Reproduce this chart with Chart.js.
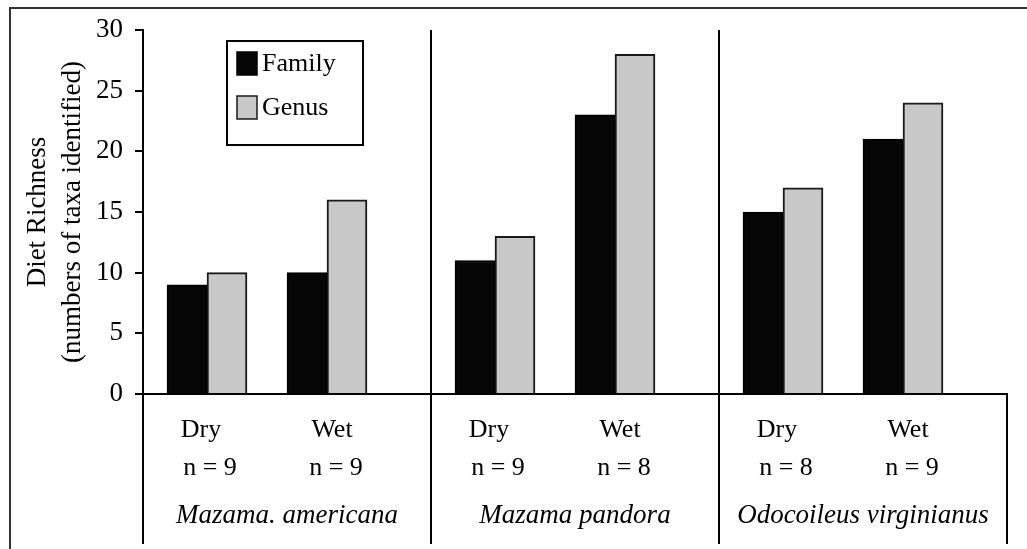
<!DOCTYPE html>
<html>
<head>
<meta charset="utf-8">
<title>Diet richness</title>
<script src="https://cdn.jsdelivr.net/npm/chart.js@4.4.0/dist/chart.umd.min.js"></script>
<style>
  html, body { margin: 0; padding: 0; background: #fff; }
  #wrap { position: relative; width: 1027px; height: 549px; }
</style>
</head>
<body>
<div id="wrap"><canvas id="richChart"></canvas></div>
<script>
// x groups and the two seasons inside each group
var species = ['Mazama. americana', 'Mazama pandora', 'Odocoileus virginianus'];
var seasons = ['Dry', 'Wet'];
// numbers of taxa identified, one value per species
var familyDry = [9, 11, 15];
var genusDry  = [10, 13, 17];
var familyWet = [10, 23, 21];
var genusWet  = [16, 28, 24];
// sample sizes
var nDry = [9, 9, 8];
var nWet = [9, 8, 9];
var yTicks = [0, 5, 10, 15, 20, 25, 30];

var serif = "'Liberation Serif', 'Times New Roman', serif";
var black = '#060606', grey = '#c8c8c8';

function bars(label, season, values, colour, edge) {
    return { label: label, season: season, data: values, backgroundColor: colour,
             borderColor: edge, borderWidth: 2, barThickness: 40 };
}
// empty set = space after each Dry / Wet pair
function gap() {
    return { label: '', data: species.map(function () { return null; }), barThickness: 40 };
}

var data = {
    labels: species,
    datasets: [
        bars('Family', 'Dry', familyDry, black, '#000'),
        bars('Genus', 'Dry', genusDry, grey, '#1a1a1a'),
        gap(),
        bars('Family', 'Wet', familyWet, black, '#000'),
        bars('Genus', 'Wet', genusWet, grey, '#1a1a1a'),
        gap()
    ]
};

var extras = {
    id: 'extras',
    beforeDraw: function (chart) {
        var ctx = chart.ctx;
        ctx.save();
        ctx.strokeStyle = '#333';
        ctx.lineWidth = 2;
        ctx.beginPath();
        ctx.moveTo(10, chart.height);
        ctx.lineTo(10, 8);
        ctx.lineTo(chart.width, 8);
        ctx.stroke();
        ctx.restore();
    },
    afterDraw: function (chart) {
        var ctx = chart.ctx, area = chart.chartArea;
        ctx.save();
        ctx.fillStyle = '#000';
        ctx.textAlign = 'center';
        ctx.textBaseline = 'middle';
        ctx.font = '26px ' + serif;
        // [family set, genus set, sample sizes, label shift, n shift]
        [[0, 1, nDry, -6, 3], [3, 4, nWet, 5, 9]].forEach(function (p, s) {
            var fam = chart.getDatasetMeta(p[0]).data, gen = chart.getDatasetMeta(p[1]).data;
            species.forEach(function (sp, i) {
                var x = (fam[i].x + gen[i].x) / 2;
                ctx.fillText(seasons[s], x + p[3], area.bottom + 36);
                ctx.fillText('n = ' + p[2][i], x + p[4], area.bottom + 74);
            });
        });

        // legend box
        var lx = area.left + 84, ly = area.top + 11;
        ctx.lineWidth = 2;
        ctx.strokeStyle = '#000';
        ctx.strokeRect(lx, ly, 136, 104);
        ctx.textAlign = 'left';
        ctx.font = '26px ' + serif;
        [data.datasets[0], data.datasets[1]].forEach(function (ds, k) {
            var sy = ly + 11 + k * 44;
            ctx.fillStyle = ds.backgroundColor;
            ctx.fillRect(lx + 10, sy, 20, 23);
            ctx.strokeStyle = ds.borderColor;
            ctx.lineWidth = 1.5;
            ctx.strokeRect(lx + 10, sy, 20, 23);
            ctx.fillStyle = '#000';
            ctx.fillText(ds.label, lx + 35, sy + 12);
        });
        ctx.restore();
    }
};

new Chart(document.getElementById('richChart'), {
    type: 'bar',
    data: data,
    plugins: [extras],
    options: {
        animation: false,
        responsive: true,
        maintainAspectRatio: false,
        layout: { padding: { left: 10, right: 20, top: 30, bottom: 5 } },
        plugins: {
            legend: { display: false },
            tooltip: { enabled: false }
        },
        scales: {
            x: {
                afterFit: function (s) { s.height = 150; },
                border: { color: '#000', width: 2 },
                grid: {
                    color: function (c) { return c.type === 'tick' ? '#000' : 'rgba(0,0,0,0)'; },
                    tickColor: '#000',
                    lineWidth: 2,
                    tickLength: 150
                },
                ticks: {
                    color: '#000',
                    padding: -44,
                    autoSkip: false,
                    maxRotation: 0,
                    font: { family: serif, size: 27, style: 'italic' }
                }
            },
            y: {
                min: 0,
                max: 30,
                afterFit: function (s) { s.width = 133; },
                afterBuildTicks: function (s) { s.ticks = yTicks.map(function (v) { return { value: v }; }); },
                border: { color: '#000', width: 2 },
                grid: { drawOnChartArea: false, tickLength: 8, color: '#000', lineWidth: 2 },
                ticks: { color: '#000', padding: 12, font: { family: serif, size: 27 } },
                title: {
                    display: true,
                    text: ['Diet Richness', '(numbers of taxa identified)'],
                    color: '#000',
                    font: { family: serif, size: 27, lineHeight: 1.3 },
                    padding: { top: 10 }
                }
            }
        }
    }
});
</script>
</body>
</html>
